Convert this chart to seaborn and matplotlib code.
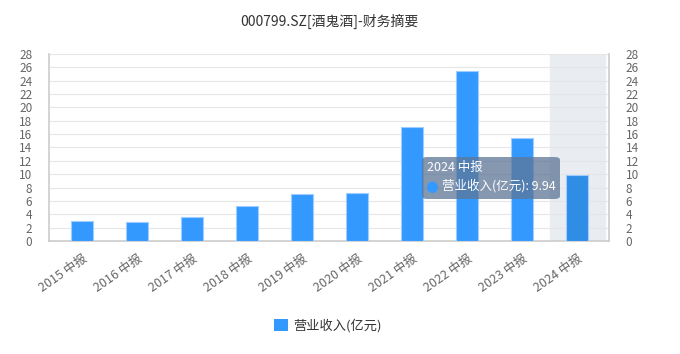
import matplotlib
matplotlib.use("Agg")
import matplotlib.pyplot as plt
import seaborn as sns
import pandas as pd
from matplotlib.patches import FancyBboxPatch, Patch

# Data
periods = ["2015 中报", "2016 中报", "2017 中报", "2018 中报", "2019 中报",
           "2020 中报", "2021 中报", "2022 中报", "2023 中报", "2024 中报"]
revenue = [3.0, 2.85, 3.6, 5.2, 7.0, 7.15, 17.07, 25.4, 15.37, 9.94]
series_name = "营业收入(亿元)"
title = "000799.SZ[酒鬼酒]-财务摘要"
hover_idx = 9

sns.set_theme(style="white")
plt.rcParams["font.family"] = ["Noto Sans CJK SC", "DejaVu Sans"]

df = pd.DataFrame({"period": periods, "revenue": revenue})
colors = ["#3399ff"] * len(periods)
colors[hover_idx] = "#2f8de6"

fig = plt.figure(figsize=(6.8, 3.54), dpi=100)
ax = fig.add_axes([0.072, 0.3192, 0.8236, 0.5283])

# hover band
ax.axvspan(hover_idx - 0.5, hover_idx + 0.5, color="#e9ecf1", zorder=0)

sns.barplot(data=df, x="period", y="revenue", hue="period", palette=colors,
            saturation=1, width=0.4, legend=False, ax=ax, edgecolor="#9fcdff",
            linewidth=0.8, zorder=3)

ax.set_xlim(-0.6, 9.58)
ax.set_ylim(0, 28)
ax.set_yticks(range(0, 29, 2))
ax.grid(axis="y", color="#e6e6e6", linewidth=0.8, zorder=1)
ax.set_axisbelow(True)
ax.set_xlabel("")
ax.set_ylabel("")

for side in ["left", "right", "bottom"]:
    ax.spines[side].set_color("#cccccc")
    ax.spines[side].set_linewidth(1.2)
ax.spines["top"].set_visible(False)

ax.tick_params(axis="y", left=False, right=False, labelleft=True, labelright=True,
               labelsize=8.5, labelcolor="#666666", pad=6)
ax.tick_params(axis="x", bottom=False, labelsize=9, labelcolor="#666666", pad=2)
plt.setp(ax.get_xticklabels(), rotation=35, ha="right", rotation_mode="anchor")

fig.suptitle(title, x=0.485, y=0.96, fontsize=10, color="#333333")

# tooltip
tip = FancyBboxPatch((422 / 680, 1 - 199 / 354), 138 / 680, 42 / 354,
                     boxstyle="round,pad=0,rounding_size=0.008",
                     transform=fig.transFigure, facecolor="#5d7596", alpha=0.75,
                     edgecolor="none", zorder=10)
fig.add_artist(tip)
fig.text(427 / 680, 1 - 171 / 354, periods[hover_idx], color="white", fontsize=9,
         zorder=11)
fig.text(425 / 680, 1 - 186 / 354, "●", color="#3399ff", fontsize=10.5,
         va="center", zorder=11, family=["DejaVu Sans"])
fig.text(442 / 680, 1 - 186 / 354, f"{series_name}: {revenue[hover_idx]}", color="white",
         fontsize=9, va="center", zorder=11)

handles = [Patch(facecolor="#3399ff", edgecolor="none", label=series_name)]
fig.legend(handles=handles, loc="center", bbox_to_anchor=(0.482, 1 - 326 / 354),
           frameon=False, fontsize=9.5, handlelength=1.1, handleheight=1.0,
           handletextpad=0.4, labelcolor="#333333")

fig.savefig("out.png", dpi=100)
